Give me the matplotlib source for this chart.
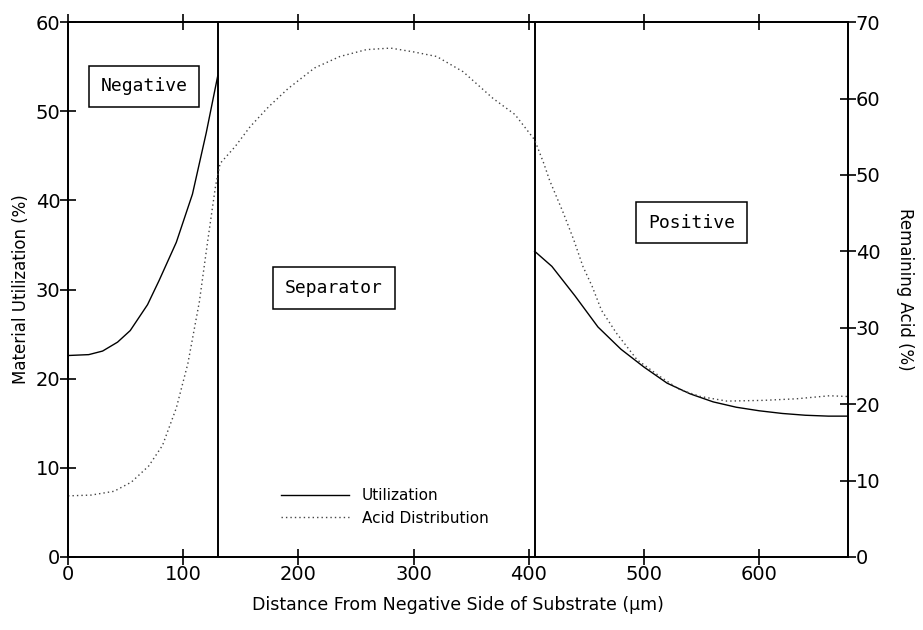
import matplotlib
matplotlib.use("Agg")
from matplotlib import pyplot as plt

# data
neg_x = [0, 18, 30, 43, 54, 69, 79, 94, 108, 120, 130]
neg_util = [22.6, 22.7, 23.1, 24.1, 25.4, 28.3, 31.0, 35.3, 40.7, 47.6, 54.0]
pos_x = [405, 420, 440, 460, 480, 500, 520, 540, 560, 580, 600, 620, 640, 660, 677]
pos_util = [34.3, 32.6, 29.3, 25.8, 23.3, 21.3, 19.5, 18.3, 17.4, 16.8, 16.4, 16.1, 15.9, 15.8, 15.8]
acid_x = [0, 20, 40, 55, 70, 82, 94, 104, 114, 121, 128, 132, 145, 158, 174, 191,
          214, 236, 259, 280, 300, 320, 343, 369, 388, 405, 413, 418, 430, 439,
          447, 455, 463, 476, 494, 514, 531, 549, 572, 604, 632, 661, 677]
acid_y = [8.0, 8.1, 8.6, 9.8, 11.9, 14.6, 19.5, 25.3, 33.4, 41.1, 48.5, 51.5, 53.7,
          56.3, 58.9, 61.3, 64.0, 65.5, 66.4, 66.6, 66.1, 65.5, 63.5, 60.0, 57.9,
          54.6, 51.5, 49.3, 45.0, 41.5, 38.0, 35.4, 32.3, 29.3, 25.8, 23.6, 21.9,
          21.0, 20.4, 20.5, 20.7, 21.1, 21.0]
boundaries = [130, 405]
regions = ["Negative", "Separator", "Positive"]
region_pos = [(66, 52.8), (231, 30.2), (541, 37.5)]

fig = plt.figure(figsize=(9.23, 6.3), dpi=100)
ax = fig.add_axes([0.0737, 0.1159, 0.845, 0.849])
ax2 = ax.twinx()

ax.plot(neg_x, neg_util, color="black", lw=1.0, label="Utilization")
ax.plot(pos_x, pos_util, color="black", lw=1.0)
ax2.plot(acid_x, acid_y, color="#444444", lw=1.0, linestyle=(0, (1, 2.2)),
         label="Acid Distribution")
for b in boundaries:
    ax.axvline(b, color="black", lw=1.4)

ax.set_xlim(0, 677)
ax.set_ylim(0, 60)
ax2.set_ylim(0, 70)
ax.set_xticks([0, 100, 200, 300, 400, 500, 600])
ax.set_yticks(range(0, 61, 10))
ax2.set_yticks(range(0, 71, 10))

for a in (ax, ax2):
    for s in a.spines.values():
        s.set_linewidth(1.3)
ax.tick_params(axis="x", direction="inout", length=11, width=1.2, top=True,
               labelsize=14, pad=0)
ax.tick_params(axis="y", direction="inout", length=11, width=1.2,
               labelsize=14, pad=0)
ax2.tick_params(axis="y", direction="inout", length=11, width=1.2,
                labelsize=14, pad=0)

ax.set_xlabel("Distance From Negative Side of Substrate (\u03bcm)", fontsize=12.5, labelpad=9)
ax.set_ylabel("Material Utilization (%)", fontsize=12, labelpad=4)
ax2.set_ylabel("Remaining Acid (%)", fontsize=12, rotation=-90, labelpad=24)

for name, (px, py) in zip(regions, region_pos):
    ax.text(px, py, name, family="DejaVu Sans Mono", fontsize=13,
            ha="center", va="center",
            bbox=dict(boxstyle="square,pad=0.65", fc="white", ec="black", lw=1.1))

h1, l1 = ax.get_legend_handles_labels()
h2, l2 = ax2.get_legend_handles_labels()
ax.legend(h1 + h2, l1 + l2, loc="lower left", bbox_to_anchor=(0.255, 0.033),
          frameon=False, fontsize=11, handlelength=4.5, labelspacing=0.5)

fig.savefig("out.png", dpi=100)
